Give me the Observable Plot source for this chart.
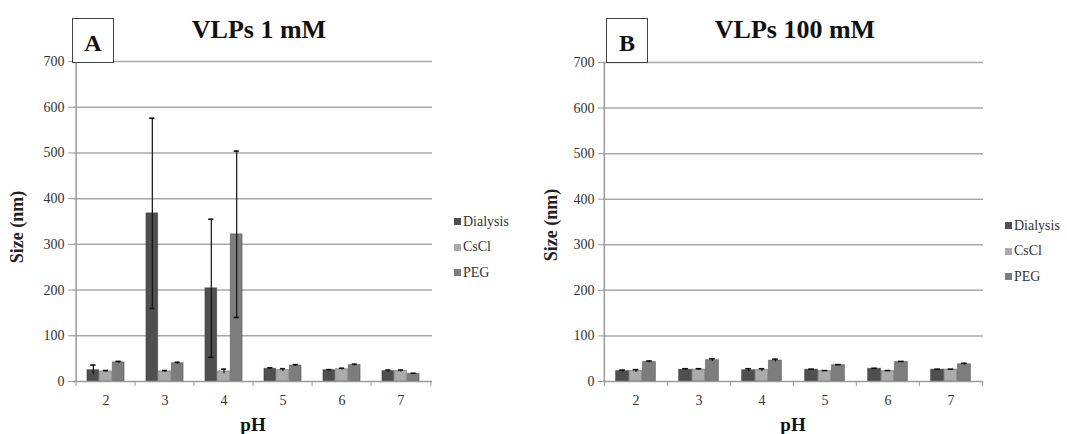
<!DOCTYPE html>
<html><head><meta charset="utf-8">
<script src="https://cdn.jsdelivr.net/npm/d3@7"></script>
<script src="https://cdn.jsdelivr.net/npm/@observablehq/plot@0.6"></script>
<style>
body{margin:0;background:#fff;font-family:"Liberation Serif","Times New Roman",serif;}
#wrap{position:relative;width:1067px;height:434px;overflow:hidden;background:#fff;}
.plot{position:absolute;top:0;}
svg text{font-family:"Liberation Serif","Times New Roman",serif !important;}
.title{position:absolute;font-weight:bold;font-size:26px;color:#111;white-space:nowrap;transform:translateX(-50%);line-height:1.15;}
.box{position:absolute;border:1.5px solid #444;width:42px;height:45px;box-sizing:border-box;font-weight:bold;font-size:24px;color:#111;display:flex;align-items:center;justify-content:center;background:#fff;padding-top:5px;}
.ylab{position:absolute;font-weight:bold;font-size:18px;color:#222;white-space:nowrap;transform:translate(-50%,-50%) rotate(-90deg);}
.xlab{position:absolute;font-weight:bold;font-size:19px;color:#111;transform:translateX(-50%);}
.leg{position:absolute;font-size:14px;color:#333;}
.leg div{height:25.5px;display:flex;align-items:center;white-space:nowrap;}
.leg span.sw{display:inline-block;width:7px;height:7px;margin-right:2px;}
svg g[aria-label="y-axis tick"] path, svg g[aria-label="y-axis"] line{stroke:#999;}
</style></head><body><div id="wrap"></div>
<script>
const pH = ["2","3","4","5","6","7"];
const series = ["Dialysis","CsCl","PEG"];
const colors = ["#4f4f4f","#ababab","#7d7d7d"];
const yTicks = [0,100,200,300,400,500,600,700];

// Panel A: VLPs 1 mM
const dialysis1 = [25,368,204,28,25,23];
const dialysis1Err = [11,208,151,2,1,2];
const cscl1 = [22,22,22,25,27,23];
const cscl1Err = [2,2,5,3,2,2];
const peg1 = [42,40,322,35,36,17];
const peg1Err = [2,2,182,2,2,1];

// Panel B: VLPs 100 mM
const dialysis100 = [23,26,25,26,28,26];
const dialysis100Err = [2,2,3,1,1,1];
const cscl100 = [23,26,25,23,23,26];
const cscl100Err = [3,2,3,1,1,1];
const peg100 = [43,47,46,36,43,38];
const peg100Err = [2,3,3,1,1,2];

function rowsOf(vals, errs){
  const out = [];
  series.forEach((s,i)=>pH.forEach((p,j)=>out.push({pH:p, series:s, si:i, value:vals[i][j], err:errs[i][j]})));
  return out;
}
const rowsA = rowsOf([dialysis1,cscl1,peg1],[dialysis1Err,cscl1Err,peg1Err]);
const rowsB = rowsOf([dialysis100,cscl100,peg100],[dialysis100Err,cscl100Err,peg100Err]);

function panel(rows, width, marginLeft, marginRight, marginTop){
  const step = (width - marginLeft - marginRight)/pH.length;
  const bw = step*0.212;
  const ins = (step-bw)/2;
  const cap = (step-6)/2;
  const marks = [
    Plot.ruleY(yTicks.slice(1), {y:d=>d, stroke:"#a8a8a8", strokeWidth:1.5}),
  ];
  series.forEach((s,i)=>{
    const data = rows.filter(d=>d.series===s);
    const dx = (i-1)*bw;
    marks.push(Plot.barY(data, {x:"pH", y:"value", fill:colors[i], dx, insetLeft:ins, insetRight:ins, stroke:"#2a2a2a", strokeOpacity:0.35, strokeWidth:1}));
    marks.push(Plot.ruleX(data, {x:"pH", y1:d=>Math.max(0,d.value-d.err), y2:d=>d.value+d.err, dx, stroke:"#111", strokeWidth:1.2}));
    marks.push(Plot.tickY(data, {x:"pH", y:d=>d.value+d.err, dx, insetLeft:cap, insetRight:cap, stroke:"#111", strokeWidth:1.6}));
    marks.push(Plot.tickY(data.filter(d=>d.err>20), {x:"pH", y:d=>d.value-d.err, dx, insetLeft:cap, insetRight:cap, stroke:"#111", strokeWidth:1.6}));
  });
  marks.push(Plot.ruleY([0], {y:d=>d, stroke:"#9a9a9a", strokeWidth:1.5}));
  marks.push(Plot.ruleX([pH[0]], {x:d=>d, dx:-step/2, stroke:"#9a9a9a", strokeWidth:1.5}));
  marks.push(Plot.ruleX(pH, {x:d=>d, dx:-step/2, y1:0, y2:0, insetBottom:-5, stroke:"#9a9a9a"}));
  marks.push(Plot.ruleX([pH[pH.length-1]], {x:d=>d, dx:step/2, y1:0, y2:0, insetBottom:-5, stroke:"#9a9a9a"}));
  return Plot.plot({
    width, height:434, marginLeft, marginRight, marginTop, marginBottom:53,
    style:{fontFamily:"Liberation Serif, Times New Roman, serif", fontSize:"14px", color:"#333", background:"transparent"},
    x:{domain:pH, padding:0, tickSize:0, tickPadding:14, label:null},
    y:{domain:[0,700], ticks:7, tickSize:5, tickPadding:4, label:null},
    marks
  });
}

const wrap = document.getElementById("wrap");
const pA = panel(rowsA, 540, 73, 108, 61);
pA.classList.add("plot"); pA.style.left = "0px";
wrap.appendChild(pA);
const pB = panel(rowsB, 537, 73, 84, 62);
pB.classList.add("plot"); pB.style.left = "530px";
wrap.appendChild(pB);

function addHTML(html){ const d=document.createElement("div"); d.innerHTML=html; wrap.appendChild(d.firstElementChild); }
addHTML(`<div class="title" style="left:259px;top:15px;">VLPs 1 mM</div>`);
addHTML(`<div class="title" style="left:795px;top:15px;">VLPs 100 mM</div>`);
addHTML(`<div class="box" style="left:72px;top:18px;">A</div>`);
addHTML(`<div class="box" style="left:606px;top:18px;">B</div>`);
addHTML(`<div class="ylab" style="left:17px;top:227px;">Size (nm)</div>`);
addHTML(`<div class="ylab" style="left:551px;top:225px;">Size (nm)</div>`);
addHTML(`<div class="xlab" style="left:253px;top:414px;">pH</div>`);
addHTML(`<div class="xlab" style="left:793px;top:414px;">pH</div>`);
function legend(left, top){
  const items = series.map((s,i)=>`<div><span class="sw" style="background:${colors[i]}"></span>${s}</div>`).join("");
  addHTML(`<div class="leg" style="left:${left}px;top:${top}px;">${items}</div>`);
}
legend(454, 209);
legend(1005, 213);
</script>
</body></html>
